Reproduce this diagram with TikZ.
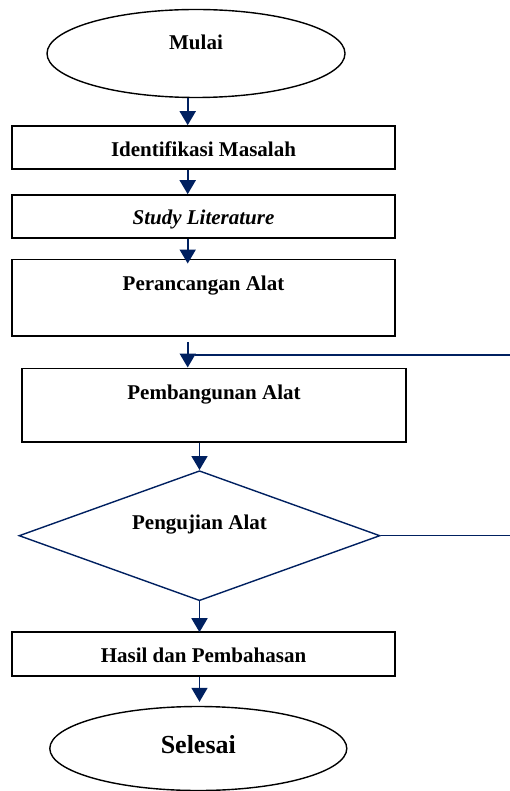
\documentclass[tikz,border=0pt]{standalone}
\usepackage{fontspec}
\setmainfont{Liberation Serif}
\usetikzlibrary{shapes.geometric,arrows.meta}

\definecolor{navy}{RGB}{0,32,96}

\tikzset{every picture/.style={line width=0.75pt}}
\tikzset{
  term/.style={ellipse, draw=black, line width=1.4pt, inner sep=3pt,
    font=\fontsize{21}{25}\selectfont\bfseries},
  proc/.style={rectangle, draw=black, line width=1.6pt, inner sep=3pt,
    minimum width=383, text height=17pt, text depth=0pt,
    font=\fontsize{21}{25}\selectfont\bfseries},
  decide/.style={diamond, draw=navy, line width=1.4pt, inner sep=3pt, aspect=2.78,
    font=\fontsize{21}{25}\selectfont\bfseries},
  flow/.style={draw=navy, line width=1.8pt, -{Triangle[width=16pt,length=14pt]}},
  back/.style={draw=navy, line width=1.3pt}
}

\begin{document}
\begin{tikzpicture}[x=1pt,y=1pt,yscale=-1,xscale=1]
\useasboundingbox (0,0) rectangle (510,791);

% columns of the connectors
\coordinate (colA) at (187.7,0);
\coordinate (edgeR) at (510,0);
\coordinate (loopA) at (195,355);

% Terminator
\node [term, minimum width=298, minimum height=88, text height=15pt, text depth=22pt] (mulai) at (196,53.5) {Mulai};
% Process
\node [proc, minimum height=43, text height=19pt] (ident) at (203.5,147.5) {Identifikasi Masalah};
\node [proc, minimum height=43] (study) at (203.5,216.5) {\itshape Study Literature};
\node [proc, minimum height=76.7, text depth=32pt] (peranc) at (203.5,297.7) {Perancangan Alat};
\node [proc, minimum width=384, minimum height=73.4, text depth=29pt] (pemb) at (214,405) {Pembangunan Alat};
% Decision
\node [decide, minimum width=361, minimum height=130, text height=17pt, text depth=30pt] (dia) at (199.5,535.7) {Pengujian Alat};
\node [proc, minimum height=44] (hasil) at (203.5,654) {Hasil dan Pembahasan};
% Terminator
\node [term, minimum width=297, minimum height=84, text height=18pt, text depth=9pt,
  font=\fontsize{26}{30}\selectfont\bfseries] (selesai) at (198.3,748.5) {Selesai};

% Arrows
\draw [flow] (mulai.south -| colA) -- (ident.north -| colA);
\draw [flow] (ident.south -| colA) -- (study.north -| colA);
\draw [flow, shorten >=-5pt] (study.south -| colA) -- (peranc.north -| colA);
\draw [flow, shorten <=5pt] (peranc.south -| colA) -- (pemb.north -| colA);
\draw [back] (loopA) -- (loopA -| edgeR);
\draw [flow] (pemb.south -| dia.north) -- (dia.north);
\draw [back] (dia.east) -- (dia.east -| edgeR);
\draw [flow, shorten >=-1pt] (dia.south) -- (hasil.north -| dia.south);
\draw [flow, shorten >=4pt] (hasil.south -| dia.south) -- (selesai.north -| dia.south);

\end{tikzpicture}
\end{document}
